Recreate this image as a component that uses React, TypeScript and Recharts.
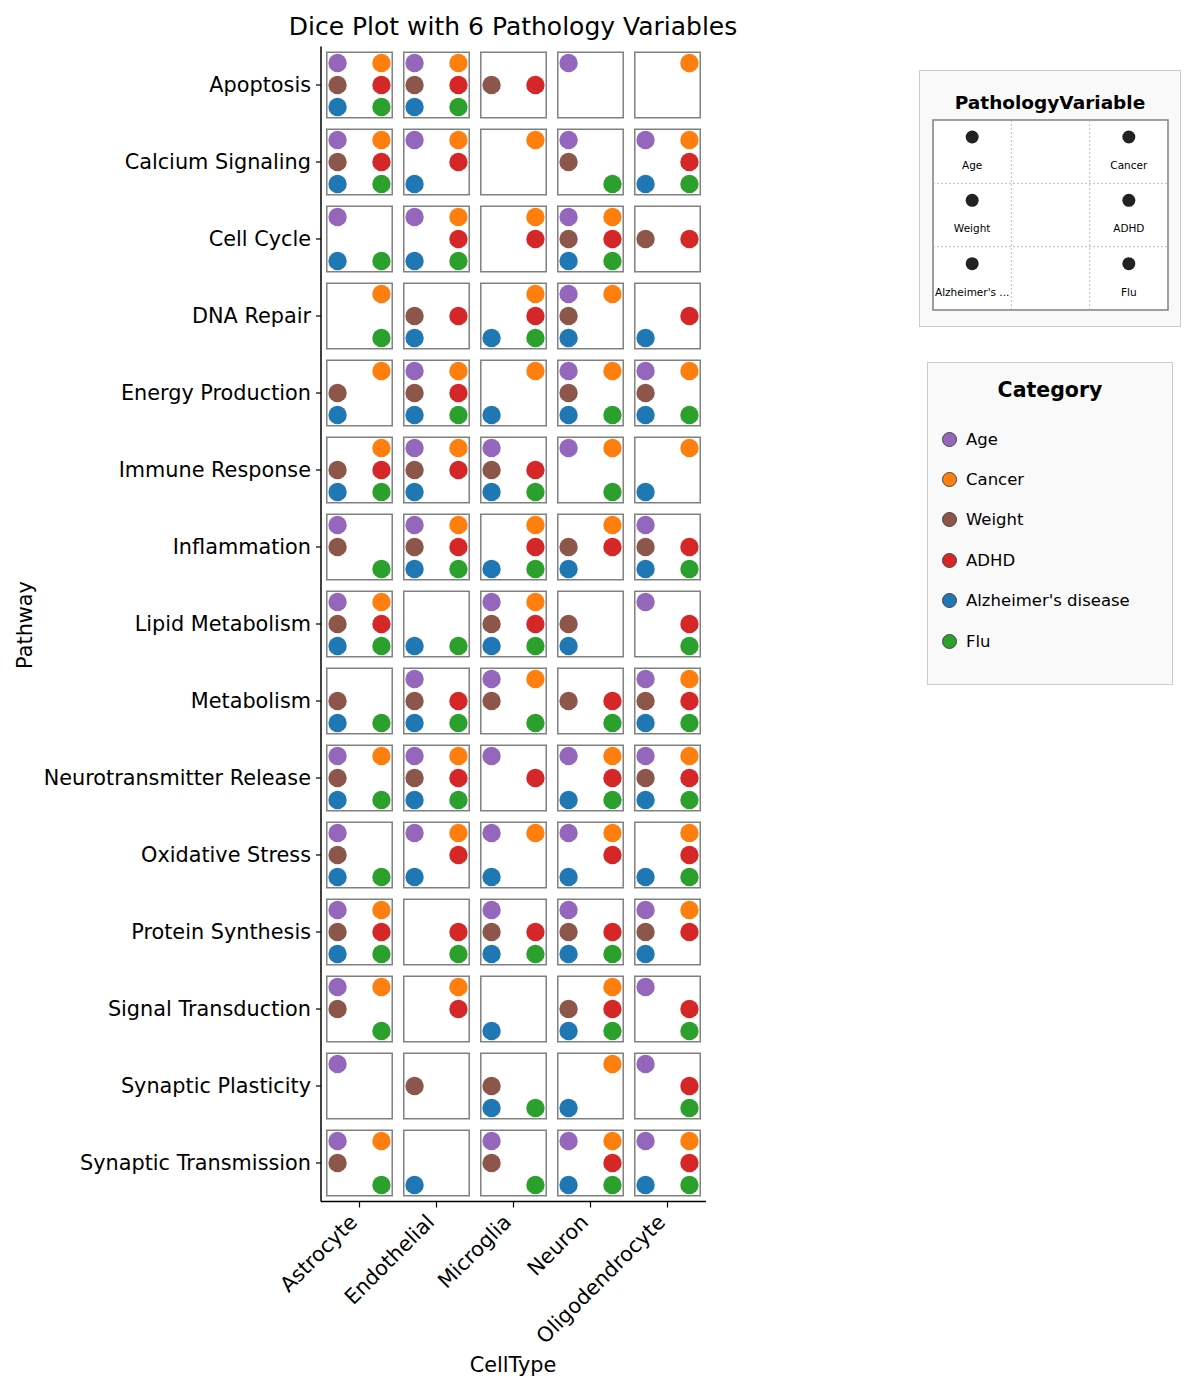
import React from "react";
import { ScatterChart, Scatter, XAxis, YAxis, ReferenceArea, Legend } from "recharts";

const cellTypes = ["Astrocyte", "Endothelial", "Microglia", "Neuron", "Oligodendrocyte"];

const pathways = [
  "Apoptosis",
  "Calcium Signaling",
  "Cell Cycle",
  "DNA Repair",
  "Energy Production",
  "Immune Response",
  "Inflammation",
  "Lipid Metabolism",
  "Metabolism",
  "Neurotransmitter Release",
  "Oxidative Stress",
  "Protein Synthesis",
  "Signal Transduction",
  "Synaptic Plasticity",
  "Synaptic Transmission",
];

const variables = ["Age", "Cancer", "Weight", "ADHD", "Alzheimer's disease", "Flu"];
const variableCodes = ["A", "C", "W", "D", "Z", "F"];
const variableColors = ["#9467bd", "#ff7f0e", "#8c564b", "#d62728", "#1f77b4", "#2ca02c"];
const shortLabels = ["Age", "Cancer", "Weight", "ADHD", "Alzheimer's ...", "Flu"];

// which variables are present in each cell, one string per cell type
const apoptosis = ["ACWDZF", "ACWDZF", "WD", "A", "C"];
const calciumSignaling = ["ACWDZF", "ACDZ", "C", "AWF", "ACDZF"];
const cellCycle = ["AZF", "ACDZF", "CD", "ACWDZF", "WD"];
const dnaRepair = ["CF", "WDZ", "CDZF", "ACWZ", "DZ"];
const energyProduction = ["CWZ", "ACWDZF", "CZ", "ACWZF", "ACWZF"];
const immuneResponse = ["CWDZF", "ACWDZ", "AWDZF", "ACF", "CZ"];
const inflammation = ["AWF", "ACWDZF", "CDZF", "CWDZ", "AWDZF"];
const lipidMetabolism = ["ACWDZF", "ZF", "ACWDZF", "WZ", "ADF"];
const metabolism = ["WZF", "AWDZF", "ACWF", "WDF", "ACWDZF"];
const neurotransmitterRelease = ["ACWZF", "ACWDZF", "AD", "ACDZF", "ACWDZF"];
const oxidativeStress = ["AWZF", "ACDZ", "ACZ", "ACDZ", "CDZF"];
const proteinSynthesis = ["ACWDZF", "DF", "AWDZF", "AWDZF", "ACWDZ"];
const signalTransduction = ["ACWF", "CD", "Z", "CWDZF", "ADF"];
const synapticPlasticity = ["A", "W", "WZF", "CZ", "ADF"];
const synapticTransmission = ["ACWF", "Z", "AWF", "ACDZF", "ACDZF"];

const presence = [
  apoptosis,
  calciumSignaling,
  cellCycle,
  dnaRepair,
  energyProduction,
  immuneResponse,
  inflammation,
  lipidMetabolism,
  metabolism,
  neurotransmitterRelease,
  oxidativeStress,
  proteinSynthesis,
  signalTransduction,
  synapticPlasticity,
  synapticTransmission,
];

// dice layout: (col, row) slot of each variable inside a cell
const dicePos = [
  [-1, -1],
  [1, -1],
  [-1, 0],
  [1, 0],
  [-1, 1],
  [1, 1],
];
const DOT_OFFSET = 0.285;
const BOX_HALF = 0.425;

const seriesData = variableCodes.map((code, k) => {
  const pts: { x: number; y: number }[] = [];
  presence.forEach((row, r) =>
    row.forEach((cell, c) => {
      if (cell.includes(code)) {
        pts.push({ x: c + dicePos[k][0] * DOT_OFFSET, y: r + dicePos[k][1] * DOT_OFFSET });
      }
    })
  );
  return pts;
});

const FONT = "'DejaVu Sans', sans-serif";

const XTick = ({ x, y, payload }: any) => (
  <text
    x={x - 1}
    y={y + 14}
    transform={`rotate(-45, ${x - 1}, ${y + 14})`}
    textAnchor="end"
    fontSize={20.8}
    fontFamily={FONT}
    fill="#000"
  >
    {cellTypes[payload.value]}
  </text>
);

// legend order follows the variable list, not the legend payload order
const CategoryLegend = () => (
  <div
    style={{
      width: 246,
      height: 323,
      boxSizing: "border-box",
      border: "1px solid #cccccc",
      background: "#f9f9f9",
      fontFamily: FONT,
      position: "relative",
    }}
  >
    <div
      style={{
        position: "absolute",
        top: 15,
        width: "100%",
        textAlign: "center",
        fontWeight: "bold",
        fontSize: 20.5,
        color: "#000",
      }}
    >
      Category
    </div>
    {variables.map((v, i) => (
      <div
        key={v}
        style={{
          position: "absolute",
          left: 14,
          top: 76 - 12 + i * 40.4,
          height: 24,
          display: "flex",
          alignItems: "center",
          fontSize: 16.5,
          color: "#000",
          whiteSpace: "nowrap",
        }}
      >
        <span
          style={{
            display: "inline-block",
            width: 13,
            height: 13,
            borderRadius: "50%",
            background: variableColors[i],
            border: "1px solid #444",
            marginRight: 9,
          }}
        />
        {v}
      </div>
    ))}
  </div>
);

const PathologyLegend = () => {
  const cellW = 235 / 3;
  const cellH = 190 / 3;
  return (
    <div
      style={{
        position: "absolute",
        left: 919,
        top: 70,
        width: 262,
        height: 257,
        boxSizing: "border-box",
        border: "1px solid #cccccc",
        background: "#f9f9f9",
        fontFamily: FONT,
      }}
    >
      <div
        style={{
          position: "absolute",
          top: 21,
          width: "100%",
          textAlign: "center",
          fontWeight: "bold",
          fontSize: 18.5,
          color: "#000",
        }}
      >
        PathologyVariable
      </div>
      <svg style={{ position: "absolute", left: 12, top: 48 }} width={238} height={193}>
        <rect x={1} y={1} width={235} height={190} fill="#fff" stroke="#808080" strokeWidth={1.5} />
        {[1, 2].map((i) => (
          <line key={`v${i}`} x1={1 + cellW * i} x2={1 + cellW * i} y1={1} y2={191} stroke="#aaa" strokeWidth={0.8} strokeDasharray="2 2" />
        ))}
        {[1, 2].map((i) => (
          <line key={`h${i}`} x1={1} x2={236} y1={1 + cellH * i} y2={1 + cellH * i} stroke="#aaa" strokeWidth={0.8} strokeDasharray="2 2" />
        ))}
        {shortLabels.map((lbl, k) => {
          const cx = 1 + cellW * (dicePos[k][0] + 1) + cellW / 2;
          const top = 1 + cellH * (dicePos[k][1] + 1);
          return (
            <g key={lbl}>
              <circle cx={cx} cy={top + 17} r={6.5} fill="#222" />
              <text x={cx} y={top + 49} textAnchor="middle" fontSize={10.5} fontFamily={FONT} fill="#000">
                {lbl}
              </text>
            </g>
          );
        })}
      </svg>
    </div>
  );
};

export default function App() {
  return (
    <div
      style={{
        position: "absolute",
        left: 0,
        top: 0,
        width: 1201,
        height: 1390,
        background: "#fff",
        fontFamily: FONT,
      }}
    >
      <div
        style={{
          position: "absolute",
          left: 513,
          top: 26,
          transform: "translate(-50%, -50%)",
          fontSize: 25,
          whiteSpace: "nowrap",
          color: "#000",
        }}
      >
        Dice Plot with 6 Pathology Variables
      </div>
      <div
        style={{
          position: "absolute",
          left: 25,
          top: 625,
          transform: "translate(-50%, -50%) rotate(-90deg)",
          fontSize: 20.8,
          whiteSpace: "nowrap",
          color: "#000",
        }}
      >
        Pathway
      </div>
      <div
        style={{
          position: "absolute",
          left: 513,
          top: 1365,
          transform: "translate(-50%, -50%)",
          fontSize: 20.8,
          whiteSpace: "nowrap",
          color: "#000",
        }}
      >
        CellType
      </div>

      <ScatterChart width={1201} height={1390} margin={{ top: 46.5, right: 495, bottom: 68.5, left: 21 }}>
        <XAxis
          type="number"
          dataKey="x"
          domain={[-0.5, 4.5]}
          ticks={[0, 1, 2, 3, 4]}
          interval={0}
          height={120}
          tick={<XTick />}
          tickSize={6}
          axisLine={{ stroke: "#000", strokeWidth: 1.5 }}
          tickLine={{ stroke: "#000", strokeWidth: 1.2 }}
        />
        <YAxis
          type="number"
          dataKey="y"
          domain={[-0.5, 14.5]}
          reversed
          ticks={pathways.map((_, i) => i)}
          interval={0}
          width={300}
          tickFormatter={(v: number) => pathways[v]}
          tick={{ fontSize: 20.8, fill: "#000", fontFamily: FONT }}
          tickSize={5}
          tickMargin={5}
          axisLine={{ stroke: "#000", strokeWidth: 1.5 }}
          tickLine={{ stroke: "#000", strokeWidth: 1.2 }}
        />
        {presence.map((row, r) =>
          row.map((_, c) => (
            <ReferenceArea
              key={`box-${r}-${c}`}
              x1={c - BOX_HALF}
              x2={c + BOX_HALF}
              y1={r - BOX_HALF}
              y2={r + BOX_HALF}
              fill="#fff"
              fillOpacity={1}
              stroke="#808080"
              strokeWidth={1.5}
              ifOverflow="visible"
            />
          ))
        )}
        {variables.map((v, k) => (
          <Scatter
            key={v}
            name={v}
            data={seriesData[k]}
            fill={variableColors[k]}
            isAnimationActive={false}
            shape={(p: any) => <circle cx={p.cx} cy={p.cy} r={9.2} fill={variableColors[k]} />}
          />
        ))}
        <Legend
          layout="vertical"
          align="center"
          verticalAlign="middle"
          content={<CategoryLegend />}
          wrapperStyle={{ position: "absolute", left: 927, top: 362, width: 246, height: 323 }}
        />
      </ScatterChart>
      <PathologyLegend />
    </div>
  );
}
